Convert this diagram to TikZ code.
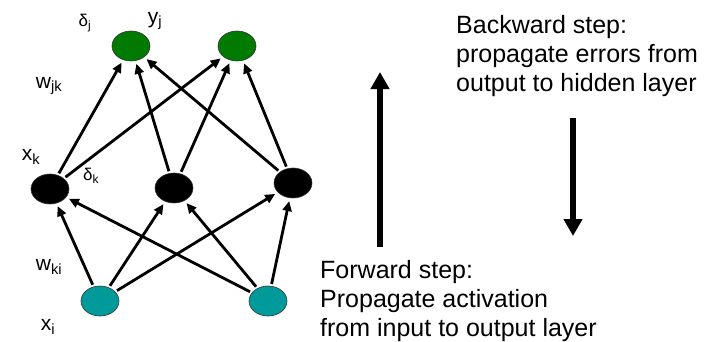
\documentclass[tikz,border=0pt]{standalone}
\usepackage{fontspec}
\setmainfont{Liberation Sans}
\usetikzlibrary{arrows.meta,shapes.geometric}

\begin{document}
\begin{tikzpicture}[x=1pt,y=-1pt,
    unit/.style = {ellipse, draw=black!80, line width=0.6pt,% neurons of all layers
                   minimum width=38pt, minimum height=30pt, inner sep=0pt},
    outunit/.style = {unit, fill=outgreen},
    hidunit/.style = {unit, fill=black},
    inunit/.style = {unit, fill=inteal},
    link/.style = {line width=2.8pt, -{Triangle[length=10pt,width=9pt]},
                   shorten <=2pt, shorten >=3pt},
    bigarrow/.style = {line width=6pt, -{Triangle[length=17pt,width=18pt]}},
    lbl/.style = {inner sep=0pt, font=\fontsize{21}{24}\selectfont},
    dlt/.style = {inner sep=0pt, font=\fontsize{17}{20}\selectfont},
    txt/.style = {inner sep=0pt, anchor=north west, align=left,
                  font=\fontsize{25}{29}\selectfont},
                        ]
\definecolor{outgreen}{HTML}{007A00}
\definecolor{inteal}{HTML}{009A9A}
\useasboundingbox (0,0) rectangle (706,341);
% layers
\node[outunit] (o1) at (131,46) {};
\node[outunit] (o2) at (237,46) {};
\node[hidunit] (h1) at (50,189) {};
\node[hidunit] (h2) at (174,188) {};
\node[hidunit] (h3) at (293,183) {};
\node[inunit] (i1) at (100,301) {};
\node[inunit] (i2) at (268,301) {};
% weights
\foreach \h in {h1,h2,h3}
  \foreach \o in {o1,o2}
    \draw[link] (\h) -- (\o);
\foreach \i in {i1,i2}
  \foreach \h in {h1,h2,h3}
    \draw[link] (\i) -- (\h);
% labels
\node[dlt] (dj) at (85,23) {δ\textsubscript{j}};
\node[lbl] (yj) at (155,21) {y\textsubscript{j}};
\node[lbl] (wjk) at (49,86) {w\textsubscript{jk}};
\node[lbl] (xk) at (31,157) {x\textsubscript{k}};
\node[dlt] (dk) at (91,176) {δ\textsubscript{k}};
\node[lbl] (wki) at (49,267) {w\textsubscript{ki}};
\node[lbl] (xi) at (48,327) {x\textsubscript{i}};
% steps
\coordinate (fwdA) at (380,247);
\coordinate (fwdB) at (380,72);
\coordinate (bwdA) at (573,118);
\coordinate (bwdB) at (573,236);
\draw[bigarrow] (fwdA) -- (fwdB);
\draw[bigarrow] (bwdA) -- (bwdB);
\node[txt] (bwd) at (456,15) {Backward step:\\propagate errors from\\output to hidden layer};
\node[txt] (fwd) at (320,260) {Forward step:\\Propagate activation\\from input to output layer};
\end{tikzpicture}
\end{document}
